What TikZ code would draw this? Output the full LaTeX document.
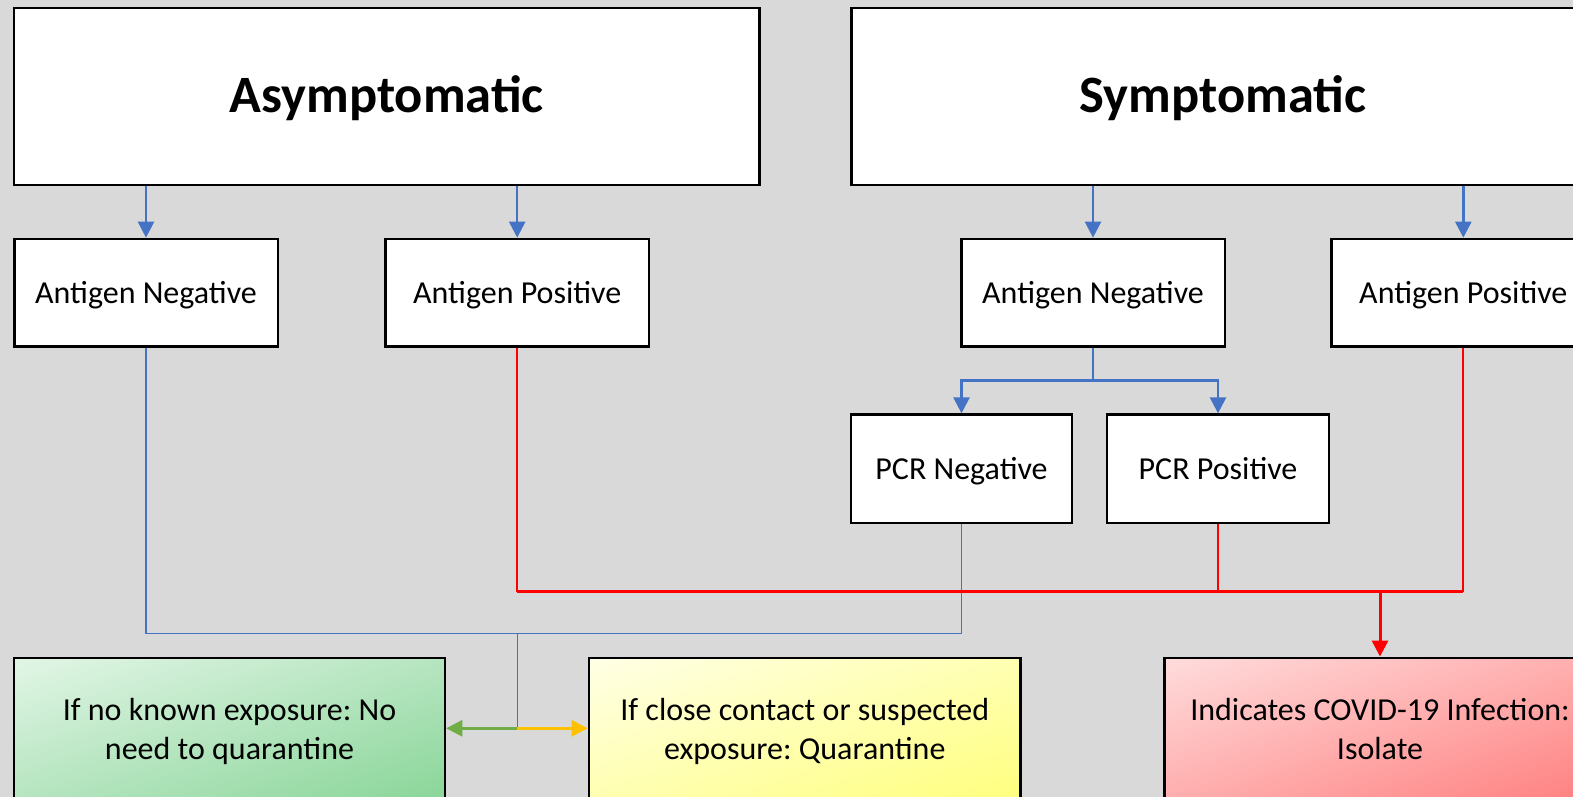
\documentclass[tikz,border=0pt]{standalone}
\usepackage{fontspec}
\setmainfont{Carlito}
\usetikzlibrary{arrows.meta,shadings}
\frenchspacing
\definecolor{bg}{HTML}{D9D9D9}
\definecolor{lblue}{HTML}{4472C4}
\definecolor{lred}{HTML}{FF0000}
\definecolor{lgreen}{HTML}{70AD47}
\definecolor{lorange}{HTML}{FFC000}
\definecolor{gA}{HTML}{E2F6E6}\definecolor{gB}{HTML}{B6E5C0}\definecolor{gC}{HTML}{8AD699}
\definecolor{yA}{HTML}{FFFFE6}\definecolor{yB}{HTML}{FFFFB2}\definecolor{yC}{HTML}{FFFF7E}
\definecolor{rA}{HTML}{FFDCDC}\definecolor{rB}{HTML}{FFAEAE}\definecolor{rC}{HTML}{FF8080}
\tikzset{
  box/.style={draw=black, line width=2.5pt, fill=white, inner sep=0pt, align=center,
    font=\fontsize{32}{39}\selectfont},
  titlebox/.style={box, minimum height=176.7pt, text height=33.2pt, text depth=0pt,
    font=\bfseries\fontsize{52.5}{60}\selectfont},
  smallbox/.style={box, minimum width=263.5pt, minimum height=107.4pt, text height=20.8pt, text depth=0pt},
  pcrbox/.style={box, minimum height=108.4pt, text height=20.8pt, text depth=0pt},
  outbox/.style={box, minimum height=141pt, text height=63pt, text depth=0pt},
  tip/.style={-{Triangle[length=16pt,width=16pt]}},
  blarrow/.style={draw=lblue, line width=2.5pt, tip},
  thinblue/.style={draw=lblue, line width=1.4pt},
  thinred/.style={draw=lred, line width=2pt},
  thickred/.style={draw=lred, line width=3pt},
}
\newcommand{\twolines}[2]{\parbox[b]{425pt}{\centering\frenchspacing #1\\#2}}
\begin{document}
\begin{tikzpicture}[x=1pt,y=-1pt]
\useasboundingbox (0,0) rectangle (1573,797);
\clip (0,0) rectangle (1573,797);
\fill[bg] (0,0) rectangle (1573,797);

\node[titlebox, minimum width=745.4pt] (asy) at (386.7,96.4) {Asymptomatic};
\node[titlebox, minimum width=742.4pt] (sym) at (1222.9,96.4) {Symptomatic};

\node[smallbox] (anL) at (146,292.6) {Antigen Negative};
\node[smallbox] (apL) at (517.2,292.6) {Antigen Positive};
\node[smallbox] (anR) at (1093,292.6) {Antigen Negative};
\node[smallbox] (apR) at (1463.3,292.6) {Antigen Positive};

\node[pcrbox, minimum width=221pt] (pcrN) at (961.5,468.8) {PCR Negative};
\node[pcrbox, minimum width=222pt] (pcrP) at (1218,468.8) {PCR Positive};

\node[outbox, minimum width=431pt, upper left=gA, lower right=gC,
  upper right=gB, lower left=gB] (grn) at (229.5,728.3)
  {\twolines{If no known exposure: No}{need to quarantine}};
\node[outbox, minimum width=431.7pt, upper left=yA, lower right=yC,
  upper right=yB, lower left=yB] (ylw) at (804.8,728.3)
  {\twolines{If close contact or suspected}{exposure: Quarantine}};
\node[outbox, minimum width=431.4pt, upper left=rA, lower right=rC,
  upper right=rB, lower left=rB] (rd) at (1380,728.3)
  {\twolines{Indicates COVID-19 Infection:}{Isolate}};

% blue arrows from title boxes
\draw[blarrow] (asy.south -| anL) -- (anL.north);
\draw[blarrow] (asy.south -| apL) -- (apL.north);
\draw[blarrow] (sym.south -| anR) -- (anR.north);
\draw[blarrow] (sym.south -| apR) -- (apR.north);

% antigen negative (symptomatic) to PCR
\coordinate (bj) at (1093,380.5);
\draw[draw=lblue, line width=2.5pt] (anR.south) -- (bj);
\draw[blarrow] (bj) -| (pcrN.north);
\draw[blarrow] (bj) -| (pcrP.north);

% thin blue: negatives to green/yellow
\coordinate (jb) at (517.2,633.4);
\coordinate (jc) at (517.2,728.3);
\draw[thinblue] (anL.south) |- (pcrN.south |- jb) -- (pcrN.south);
\draw[thinblue] (jb) -- (jc);
\draw[draw=lgreen, line width=2.6pt, tip] (jc) -- (grn.east |- jc);
\draw[draw=lorange, line width=2.6pt, tip] (jc) -- (ylw.west |- jc);

% red: positives to isolate
\coordinate (rj) at (1380,591.7);
\draw[thinred] (apL.south) -- (apL.south |- rj);
\draw[thinred] (pcrP.south) -- (pcrP.south |- rj);
\draw[thinred] (apR.south) -- (apR.south |- rj);
\draw[thickred] (apL.south |- rj) -- (apR.south |- rj);
\draw[thickred, tip] (rj) -- (rd.north);
\end{tikzpicture}
\end{document}
